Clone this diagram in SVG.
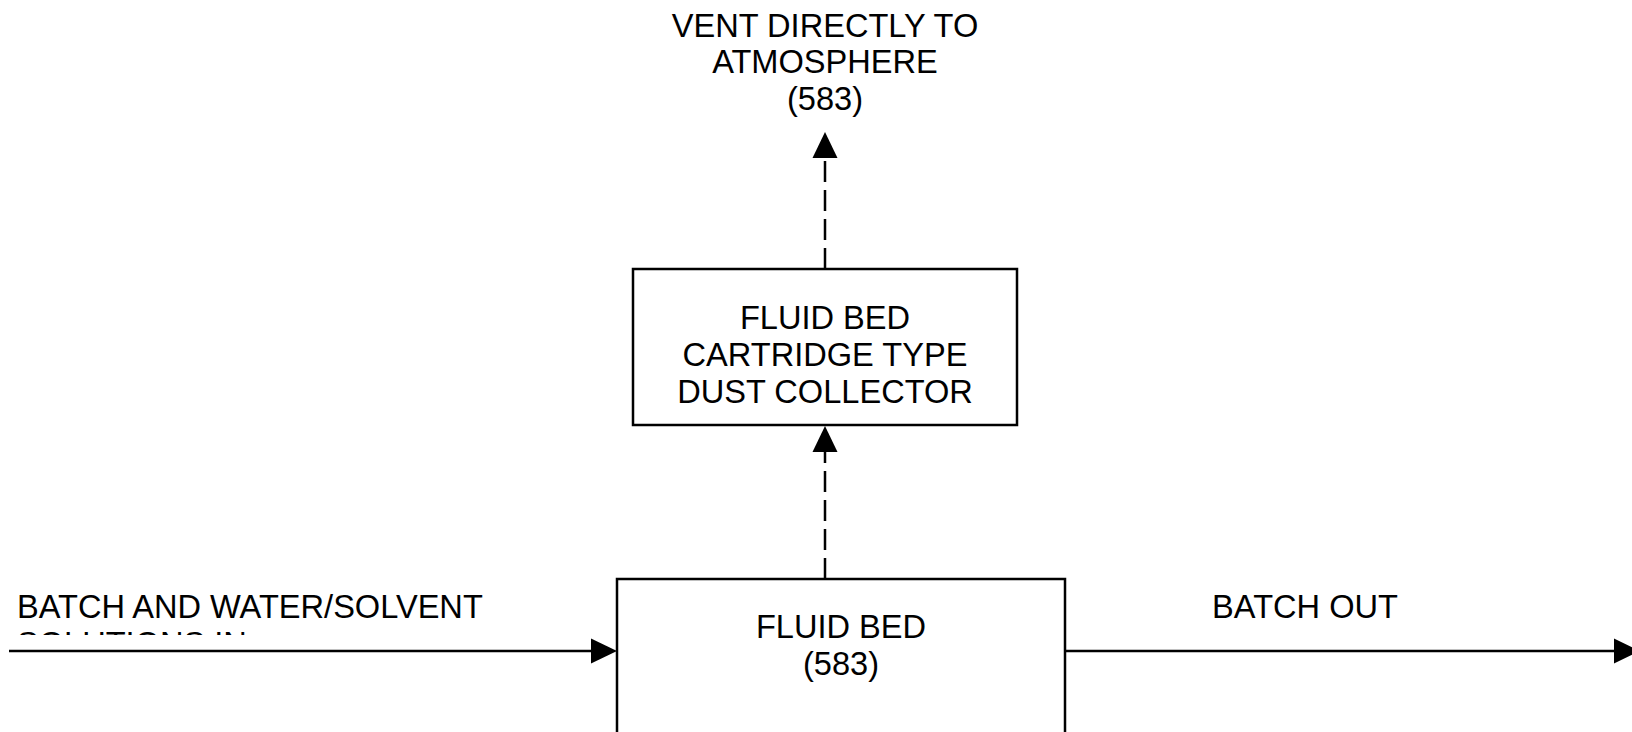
<svg xmlns="http://www.w3.org/2000/svg" width="1632" height="732" viewBox="0 0 1632 732">
  <style>
    .box { fill: #ffffff; stroke: #000000; stroke-width: 2.5; }
    .lbl { font-family: "Liberation Sans", Arial, sans-serif; font-size: 32.6px; fill: #000000; }
    .mid { text-anchor: middle; }
    .flow { stroke: #000000; stroke-width: 2.5; fill: none; }
    .dash { stroke-dasharray: 21 8; }
  </style>
  <defs>
    <marker id="arrow" markerUnits="userSpaceOnUse" markerWidth="26" markerHeight="25" refX="0" refY="12.5" orient="auto" overflow="visible">
      <path d="M0,0 L26,12.5 L0,25 Z" fill="#000000"/>
    </marker>
    <clipPath id="clipSol">
      <rect x="0" y="560" width="640" height="75"/>
    </clipPath>
  </defs>
  <rect x="0" y="0" width="1632" height="732" fill="#ffffff"/>

  <g id="connectors">
    <line class="flow" x1="9" y1="651" x2="591" y2="651" marker-end="url(#arrow)"/>
    <line class="flow" x1="1065" y1="651" x2="1614" y2="651" marker-end="url(#arrow)"/>
    <line class="flow dash" x1="825" y1="579" x2="825" y2="452" marker-end="url(#arrow)"/>
    <line class="flow dash" x1="825" y1="269" x2="825" y2="158" marker-end="url(#arrow)"/>
  </g>

  <g id="vent-label">
    <text class="lbl mid" x="825" y="36.5">VENT DIRECTLY TO</text>
    <text class="lbl mid" x="825" y="73.3">ATMOSPHERE</text>
    <text class="lbl mid" x="825" y="110.1">(583)</text>
  </g>

  <g id="dust-collector">
    <rect class="box" x="633" y="269" width="384" height="156"/>
    <text class="lbl mid" x="825" y="329">FLUID BED</text>
    <text class="lbl mid" x="825" y="366">CARTRIDGE TYPE</text>
    <text class="lbl mid" x="825" y="403">DUST COLLECTOR</text>
  </g>

  <g id="fluid-bed">
    <rect class="box" x="617" y="579" width="448" height="170"/>
    <text class="lbl mid" x="841" y="638">FLUID BED</text>
    <text class="lbl mid" x="841" y="675">(583)</text>
  </g>

  <g id="batch-in-label">
    <text class="lbl" x="17" y="618">BATCH AND WATER/SOLVENT</text>
    <text class="lbl" x="17" y="655" clip-path="url(#clipSol)">SOLUTIONS IN</text>
  </g>

  <g id="batch-out-label">
    <text class="lbl mid" x="1305" y="618">BATCH OUT</text>
  </g>
</svg>
